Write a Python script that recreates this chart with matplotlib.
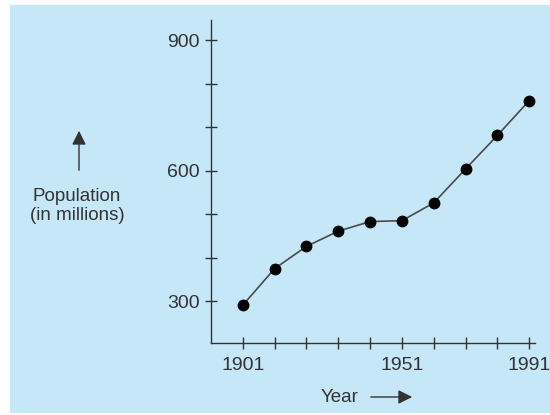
import matplotlib
matplotlib.use("Agg")
import matplotlib.pyplot as plt
from matplotlib.patches import Rectangle, FancyArrowPatch

# values
years = [1901, 1911, 1921, 1931, 1941, 1951, 1961, 1971, 1981, 1991]
population = [291, 375, 426, 461, 483, 485, 526, 604, 681, 761]
year_labels = {1901: "1901", 1951: "1951", 1991: "1991"}
pop_labels = {300: "300", 600: "600", 900: "900"}

bg = "#c6e7f7"
ink = "#333333"

plt.rcParams["font.family"] = ["Liberation Sans", "DejaVu Sans"]

fig = plt.figure(figsize=(5.5, 4.15), dpi=100)
fig.patch.set_facecolor("white")
fig.patches.append(Rectangle((10 / 550, 2 / 415), 1 - 10 / 550, 1 - 7 / 415,
                             transform=fig.transFigure, facecolor=bg,
                             edgecolor="none", zorder=-5))

ax = fig.add_axes([211 / 550, 1 - 343 / 415, 324 / 550, 323 / 415])
ax.set_facecolor("none")

ax.plot(years, population, color="#4a4a4a", lw=1.2, zorder=2)
ax.plot(years, population, "o", color="black", ms=7.5, zorder=3)

ax.set_xlim(1891, 1992.8)
ax.set_ylim(204, 946)

ax.set_xticks(range(1901, 1992, 10))
ax.set_xticklabels([year_labels.get(y, "") for y in range(1901, 1992, 10)])
ax.set_yticks(range(300, 901, 100))
ax.set_yticklabels([pop_labels.get(p, "") for p in range(300, 901, 100)])

for side in ["top", "right"]:
    ax.spines[side].set_visible(False)
for side in ["left", "bottom"]:
    ax.spines[side].set_color(ink)
    ax.spines[side].set_linewidth(1.0)

ax.tick_params(direction="inout", length=8.5, width=1.0, colors=ink,
               labelsize=14, labelcolor=ink)
ax.tick_params(axis="y", pad=4)
ax.tick_params(axis="x", pad=6)

# axis captions with arrows
fig.text(77 / 550, 1 - 206 / 415, "Population\n(in millions)", ha="center",
         va="center", fontsize=13.5, color=ink, linespacing=1.1)
fig.patches.append(FancyArrowPatch(
    (79 / 550, 1 - 173 / 415), (79 / 550, 1 - 128 / 415),
    transform=fig.transFigure, arrowstyle="-|>,head_length=6,head_width=3",
    color=ink, lw=1.0, mutation_scale=1.4))

fig.text(340 / 550, 1 - 397 / 415, "Year", ha="center", va="center",
         fontsize=13.5, color=ink)
fig.patches.append(FancyArrowPatch(
    (368 / 550, 1 - 397 / 415), (415 / 550, 1 - 397 / 415),
    transform=fig.transFigure, arrowstyle="-|>,head_length=6,head_width=3",
    color=ink, lw=1.0, mutation_scale=1.4))

fig.savefig("out.png", dpi=100, facecolor=fig.get_facecolor())
